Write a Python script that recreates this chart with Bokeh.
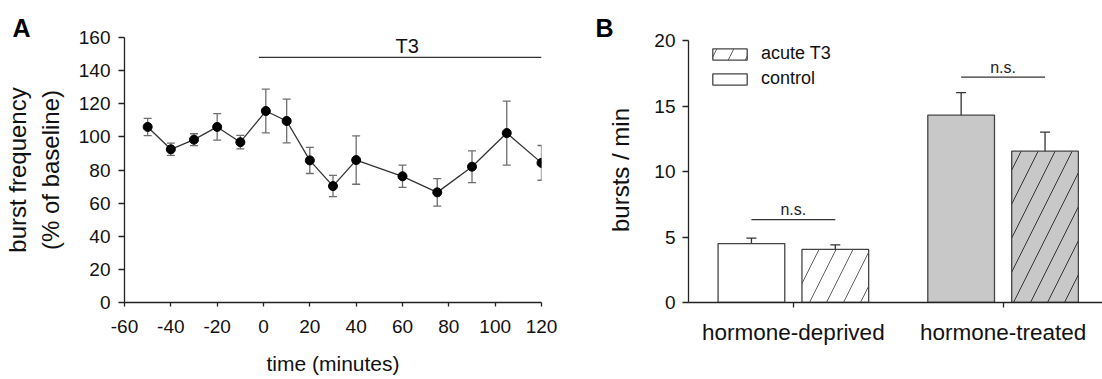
from bokeh.plotting import figure
from bokeh.layouts import row
from bokeh.models import (ColumnDataSource, Range1d, Whisker, TeeHead, FixedTicker,
                          Legend, LegendItem)
from bokeh.embed import file_html
from bokeh.resources import INLINE
from bokeh.core.properties import value

FONT = "Liberation Sans"

# ---------------- Panel A data ----------------
time_min = [-50, -40, -30, -20, -10, 1, 10, 20, 30, 40, 60, 75, 90, 105, 120]
burst_pct = [106.0, 92.5, 98.3, 106.0, 96.8, 115.6, 109.6, 85.8, 70.3, 86.0, 76.2, 66.5, 82.0, 102.3, 84.3]
burst_sem = [5.2, 3.7, 3.6, 8.0, 4.1, 13.2, 13.2, 7.9, 6.4, 14.6, 6.7, 8.3, 9.6, 19.3, 10.5]
t3_start, t3_end, t3_bar_y = -2, 120, 148
t3_label_x = 62
x_ticks_a = [-60, -40, -20, 0, 20, 40, 60, 80, 100, 120]
y_ticks_a = [0, 20, 40, 60, 80, 100, 120, 140, 160]

# ---------------- Panel B data ----------------
groups = ["hormone-deprived", "hormone-treated"]
group_pos = [0, 1]
control_mean = [4.5, 14.3]
control_sem = [0.42, 1.72]
t3_mean = [4.05, 11.55]
t3_sem = [0.35, 1.45]
ns_y = [6.33, 17.2]
y_ticks_b = [0, 5, 10, 15, 20]
group_fill = ["white", "#c8c8c8"]
hatch_colors = ["#606060", "#333333"]

TOP, BOTTOM = 37, 77


def style_axes(p):
    p.outline_line_color = None
    p.xgrid.visible = False
    p.ygrid.visible = False
    p.background_fill_color = "white"
    p.border_fill_color = "white"
    for ax in p.axis:
        ax.axis_line_color = "#222222"
        ax.axis_line_width = 1.3
        ax.major_tick_line_color = "#222222"
        ax.major_tick_line_width = 1.3
        ax.major_tick_in = 0
        ax.minor_tick_line_color = None
        ax.major_label_text_font = FONT
        ax.major_label_text_color = "#111111"
        ax.major_label_text_font_size = "19px"
        ax.axis_label_text_font = FONT
        ax.axis_label_text_font_style = "normal"
        ax.axis_label_text_color = "#111111"


def panel_title(p, letter, offset, standoff):
    p.title.text = letter
    p.title.text_font = FONT
    p.title.text_font_style = "bold"
    p.title.text_font_size = "25px"
    p.title.text_color = "black"
    p.title.align = "left"
    p.title.offset = offset
    try:
        p.title.standoff = standoff
    except Exception:
        p.title.standoff = 0


# ================= Panel A =================
pa = figure(width=560, height=379, x_range=Range1d(-60, 120), y_range=Range1d(0, 160),
            output_backend="svg", toolbar_location=None,
            min_border_left=124, min_border_right=19, min_border_top=TOP, min_border_bottom=BOTTOM)
style_axes(pa)
panel_title(pa, "A", -112, -9)
pa.xaxis.ticker = FixedTicker(ticks=x_ticks_a)
pa.xaxis.major_label_overrides = {t: str(t) for t in x_ticks_a}
pa.yaxis.ticker = FixedTicker(ticks=y_ticks_a)
pa.xaxis.major_tick_out = 4
pa.yaxis.major_tick_out = 6
pa.xaxis.major_label_standoff = 13
pa.yaxis.major_label_standoff = 8
pa.xaxis.axis_label = "time (minutes)"
pa.xaxis.axis_label_text_font_size = "21px"
pa.xaxis.axis_label_standoff = 16
pa.yaxis.axis_label = "burst frequency\n(% of baseline)"
pa.yaxis.axis_label_text_font_size = "24px"
pa.yaxis.axis_label_standoff = 12

src_a = ColumnDataSource(dict(
    x=time_min, y=burst_pct,
    upper=[m + s for m, s in zip(burst_pct, burst_sem)],
    lower=[m - s for m, s in zip(burst_pct, burst_sem)],
))
err_col = "#6e6e6e"
pa.add_layout(Whisker(base="x", upper="upper", lower="lower", source=src_a,
                      line_color=err_col, line_width=1.3,
                      upper_head=TeeHead(size=8, line_color=err_col, line_width=1.3),
                      lower_head=TeeHead(size=8, line_color=err_col, line_width=1.3)))
pa.line("x", "y", source=src_a, line_color="#333333", line_width=1.3)
pa.scatter("x", "y", source=src_a, size=9, fill_color="black", line_color="black")

pa.segment(x0=[t3_start], y0=[t3_bar_y], x1=[t3_end], y1=[t3_bar_y],
           line_color="#333333", line_width=1.3)
pa.text(x=[t3_label_x], y=[t3_bar_y + 7], text=["T3"], text_font=value(FONT),
        text_font_size="20px", text_align="center", text_baseline="middle",
        text_color="#111111")

# ================= Panel B =================
# frame top sits 3 px higher than the "20" tick in the original -> small headroom
pb = figure(width=542, height=379, x_range=Range1d(-0.5, 1.474), y_range=Range1d(0, 20.23),
            output_backend="svg", toolbar_location=None,
            min_border_left=128, min_border_right=0, min_border_top=TOP, min_border_bottom=BOTTOM)
style_axes(pb)
panel_title(pb, "B", -93, -9)
pb.xaxis.ticker = FixedTicker(ticks=group_pos)
pb.xaxis.major_label_overrides = {g: name for g, name in zip(group_pos, groups)}
pb.xaxis.major_label_text_font_size = "22.5px"
pb.yaxis.ticker = FixedTicker(ticks=y_ticks_b)
pb.yaxis.bounds = (0, 20)
pb.xaxis.major_tick_out = 5
pb.yaxis.major_tick_out = 6
pb.xaxis.major_label_standoff = 12
pb.yaxis.major_label_standoff = 7
pb.yaxis.axis_label = "bursts / min"
pb.yaxis.axis_label_text_font_size = "24px"
pb.yaxis.axis_label_standoff = 17

offset = 0.2
bar_w = 0.318
src_ctrl = ColumnDataSource(dict(
    x=[g - offset for g in group_pos], top=control_mean,
    upper=[m + s for m, s in zip(control_mean, control_sem)], fill=group_fill))
src_t3 = ColumnDataSource(dict(
    x=[g + offset for g in group_pos], top=t3_mean,
    upper=[m + s for m, s in zip(t3_mean, t3_sem)], fill=group_fill, hcol=hatch_colors))

r_ctrl = pb.vbar(x="x", top="top", width=bar_w, source=src_ctrl, fill_color="fill",
                 line_color="#444444", line_width=1.3)
r_t3 = pb.vbar(x="x", top="top", width=bar_w, source=src_t3, fill_color="fill",
               line_color="#444444", line_width=1.3, hatch_pattern="/",
               hatch_color="hcol", hatch_scale=34, hatch_weight=1)

for s in (src_ctrl, src_t3):
    pb.add_layout(Whisker(base="x", upper="upper", lower="top", source=s,
                          line_color="#333333", line_width=1.3, lower_head=None,
                          upper_head=TeeHead(size=10, line_color="#333333", line_width=1.3),
                          level="overlay"))

pb.segment(x0=[g - offset for g in group_pos], y0=ns_y,
           x1=[g + offset for g in group_pos], y1=ns_y,
           line_color="#333333", line_width=1.3)
pb.text(x=group_pos, y=[v + 0.75 for v in ns_y], text=["n.s.", "n.s."],
        text_font=value(FONT), text_font_size="16px", text_align="center",
        text_baseline="middle", text_color="#222222")

legend = Legend(items=[LegendItem(label="acute T3", renderers=[r_t3], index=0),
                       LegendItem(label="control", renderers=[r_ctrl], index=0)],
                location=(20, 213), margin=0, padding=0, spacing=4,
                glyph_width=43, glyph_height=14, label_standoff=10,
                label_text_font=FONT, label_text_font_size="18px",
                label_text_color="#111111",
                background_fill_alpha=0, border_line_color=None)
pb.add_layout(legend)

layout = row(pa, pb)
open("out.html", "w").write(file_html(layout, INLINE))
